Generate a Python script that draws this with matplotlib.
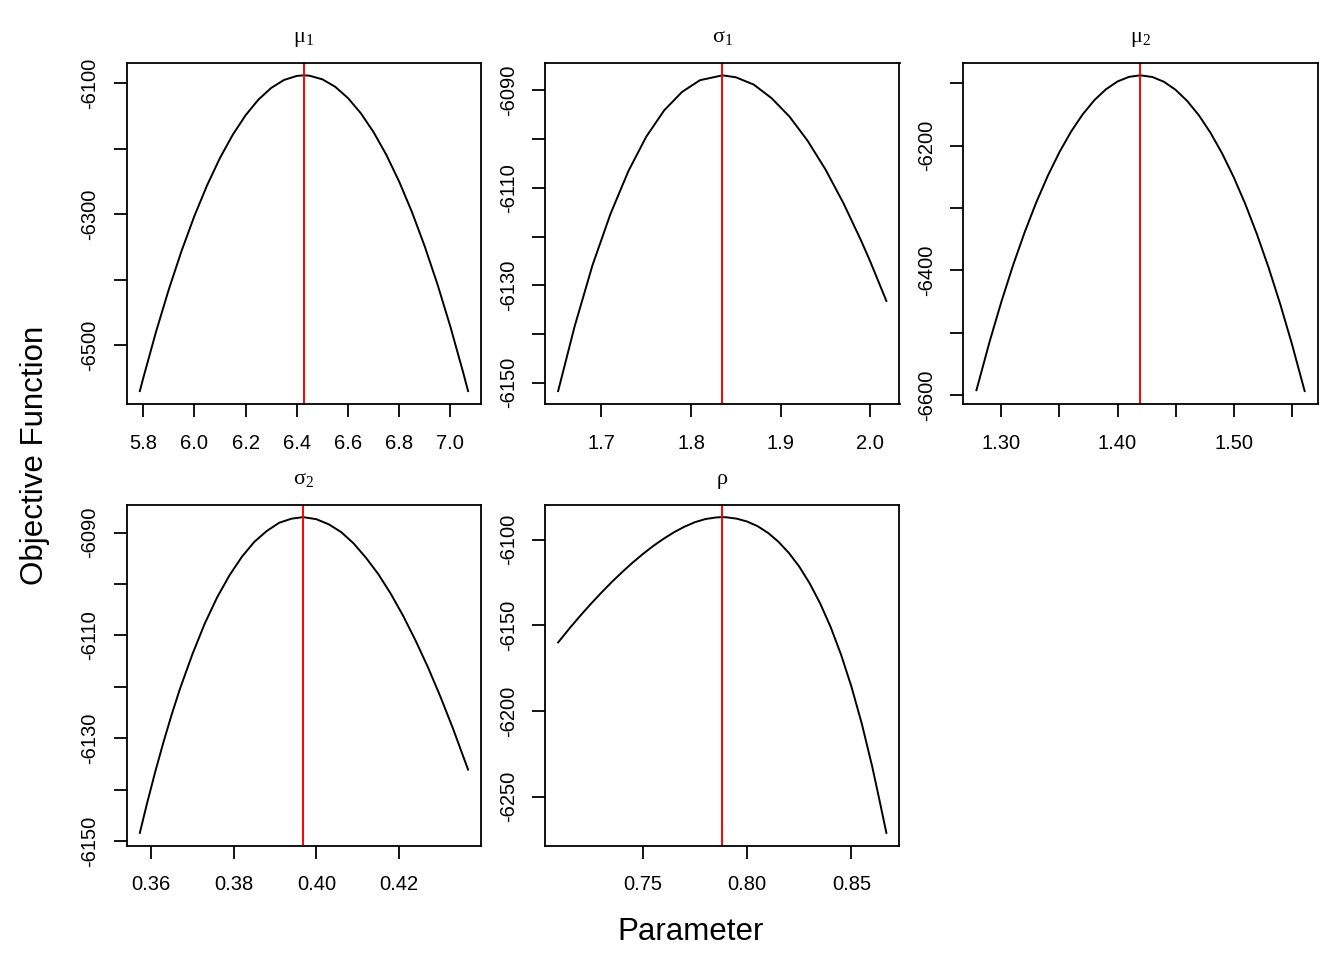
import numpy as np
import matplotlib.pyplot as plt

# ===========================================
# DATA
# ===========================================
# mu_1
mu1_x = [5.787, 5.80, 5.85, 5.90, 5.95, 6.00, 6.05, 6.10, 6.15, 6.20, 6.25, 6.30, 6.35, 6.40, 6.428,
         6.45, 6.50, 6.55, 6.60, 6.65, 6.70, 6.75, 6.80, 6.85, 6.90, 6.95, 7.00, 7.05, 7.069]
mu1_y = [-6570.4, -6551.0, -6480.1, -6415.2, -6356.1, -6302.8, -6255.5, -6214.0, -6178.4, -6148.7,
         -6124.8, -6106.9, -6094.7, -6088.5, -6087.6, -6088.2, -6093.7, -6105.1, -6122.4, -6145.5,
         -6174.5, -6209.4, -6250.2, -6296.8, -6349.4, -6407.8, -6472.0, -6542.2, -6570.4]
mu1_hat = 6.428

# sigma_1
sig1_x = [1.6517, 1.67, 1.69, 1.71, 1.73, 1.75, 1.77, 1.79, 1.81, 1.835,
          1.85, 1.87, 1.89, 1.91, 1.93, 1.95, 1.97, 1.99, 2.00, 2.018]
sig1_y = [-6151.7, -6138.5, -6125.9, -6115.4, -6106.6, -6099.5, -6094.1, -6090.3, -6087.9, -6086.9,
          -6087.3, -6088.8, -6091.6, -6095.4, -6100.3, -6106.2, -6113.1, -6120.9, -6125.1, -6133.2]
sig1_hat = 1.835

# mu_2
mu2_x = [1.2785, 1.29, 1.30, 1.31, 1.32, 1.33, 1.34, 1.35, 1.36, 1.37, 1.38, 1.39, 1.40, 1.41, 1.4197,
         1.43, 1.44, 1.45, 1.46, 1.47, 1.48, 1.49, 1.50, 1.51, 1.52, 1.53, 1.54, 1.55, 1.5611]
mu2_y = [-6592.1, -6513.2, -6450.0, -6391.8, -6338.8, -6290.8, -6247.9, -6210.0, -6177.2, -6149.5,
         -6126.8, -6109.3, -6096.7, -6089.3, -6086.9, -6089.6, -6097.3, -6110.2, -6128.1, -6151.0,
         -6179.0, -6212.1, -6250.3, -6293.5, -6341.8, -6395.2, -6453.6, -6517.1, -6593.5]
mu2_hat = 1.4197

# sigma_2
sig2_x = [0.3573, 0.3590, 0.3610, 0.3630, 0.3650, 0.3670, 0.3700, 0.3730, 0.3760, 0.3790, 0.3820,
          0.3850, 0.3880, 0.3910, 0.3940, 0.3968, 0.4000, 0.4030, 0.4060, 0.4090, 0.4120, 0.4150,
          0.4180, 0.4210, 0.4240, 0.4270, 0.4300, 0.4330, 0.4367]
sig2_y = [-6148.4, -6142.8, -6136.6, -6130.8, -6125.4, -6120.4, -6113.7, -6107.7, -6102.6, -6098.3,
          -6094.7, -6091.8, -6089.7, -6088.1, -6087.3, -6087.0, -6087.4, -6088.4, -6089.9, -6092.1,
          -6094.9, -6098.1, -6101.9, -6106.2, -6111.0, -6116.2, -6121.9, -6128.0, -6136.1]
sig2_hat = 0.3968

# rho
rho_x = [0.7092, 0.715, 0.72, 0.725, 0.73, 0.735, 0.74, 0.745, 0.75, 0.755, 0.76, 0.765, 0.77,
         0.775, 0.78, 0.785, 0.7879, 0.79, 0.795, 0.80, 0.805, 0.81, 0.815, 0.82, 0.825, 0.83,
         0.835, 0.84, 0.845, 0.85, 0.855, 0.86, 0.8635, 0.8668]
rho_y = [-6159.9, -6151.2, -6144.1, -6137.3, -6130.8, -6124.6, -6118.8, -6113.3, -6108.2, -6103.5,
         -6099.3, -6095.5, -6092.3, -6089.7, -6087.9, -6087.0, -6086.8, -6086.9, -6087.7, -6089.4,
         -6092.1, -6096.0, -6101.2, -6107.7, -6115.7, -6125.5, -6137.1, -6150.8, -6166.9, -6185.6,
         -6207.3, -6232.3, -6252.0, -6271.0]
rho_hat = 0.7879

titles = [r'$\mathregular{\mu_1}$', r'$\mathregular{\sigma_1}$', r'$\mathregular{\mu_2}$',
          r'$\mathregular{\sigma_2}$', r'$\mathregular{\rho}$']

# tick positions and labels (R drops labels that would overlap)
xticks = [[5.8, 6.0, 6.2, 6.4, 6.6, 6.8, 7.0],
          [1.7, 1.8, 1.9, 2.0],
          [1.30, 1.35, 1.40, 1.45, 1.50, 1.55],
          [0.36, 0.38, 0.40, 0.42],
          [0.75, 0.80, 0.85]]
xlabels = [['5.8', '6.0', '6.2', '6.4', '6.6', '6.8', '7.0'],
           ['1.7', '1.8', '1.9', '2.0'],
           ['1.30', '', '1.40', '', '1.50', ''],
           ['0.36', '0.38', '0.40', '0.42'],
           ['0.75', '0.80', '0.85']]
yticks = [[-6500, -6400, -6300, -6200, -6100],
          [-6150, -6140, -6130, -6120, -6110, -6100, -6090],
          [-6600, -6500, -6400, -6300, -6200, -6100],
          [-6150, -6140, -6130, -6120, -6110, -6100, -6090],
          [-6250, -6200, -6150, -6100]]
ylabels = [['-6500', '', '-6300', '', '-6100'],
           ['-6150', '', '-6130', '', '-6110', '', '-6090'],
           ['-6600', '', '-6400', '', '-6200', ''],
           ['-6150', '', '-6130', '', '-6110', '', '-6090'],
           ['-6250', '-6200', '-6150', '-6100']]

curves = [(mu1_x, mu1_y, mu1_hat), (sig1_x, sig1_y, sig1_hat), (mu2_x, mu2_y, mu2_hat),
          (sig2_x, sig2_y, sig2_hat), (rho_x, rho_y, rho_hat)]

# ===========================================
# LAYOUT (R-like par(mfrow=c(2,3)))
# ===========================================
plt.rcParams['font.family'] = ['Liberation Sans', 'DejaVu Sans']

W, H = 1344, 960
fig = plt.figure(figsize=(W / 100, H / 100), dpi=100)

col_left = [126.7, 545.0, 963.3]
row_top = [62.7, 504.5]
box_w, box_h = 354.5, 341.0

for k, (cx, cy, chat) in enumerate(curves):
    r, c = divmod(k, 3)
    ax = fig.add_axes([col_left[c] / W, 1 - (row_top[r] + box_h) / H, box_w / W, box_h / H])
    ax.plot(cx, cy, color='black', lw=1.4)
    ax.margins(x=0.04, y=0.04)
    ax.axvline(chat, color='red', lw=1.4)

    ax.set_xticks(xticks[k])
    ax.set_xticklabels(xlabels[k])
    ax.set_yticks(yticks[k])
    ax.set_yticklabels(ylabels[k], rotation=90, va='center')
    ax.tick_params(direction='out', length=9.5, width=1.3, labelsize=14.5)
    ax.tick_params(axis='x', pad=12)
    ax.tick_params(axis='y', pad=10)
    for s in ax.spines.values():
        s.set_linewidth(1.3)

    ax.set_title(titles[k], fontsize=16, family='Liberation Serif', pad=15)

fig.text(691 / W, 1 - 932 / H, 'Parameter', ha='center', va='center', fontsize=22.5)
fig.text(35 / W, 1 - 455 / H, 'Objective Function', ha='center', va='center',
         rotation=90, fontsize=22.5)

fig.savefig('out.png', dpi=100)
